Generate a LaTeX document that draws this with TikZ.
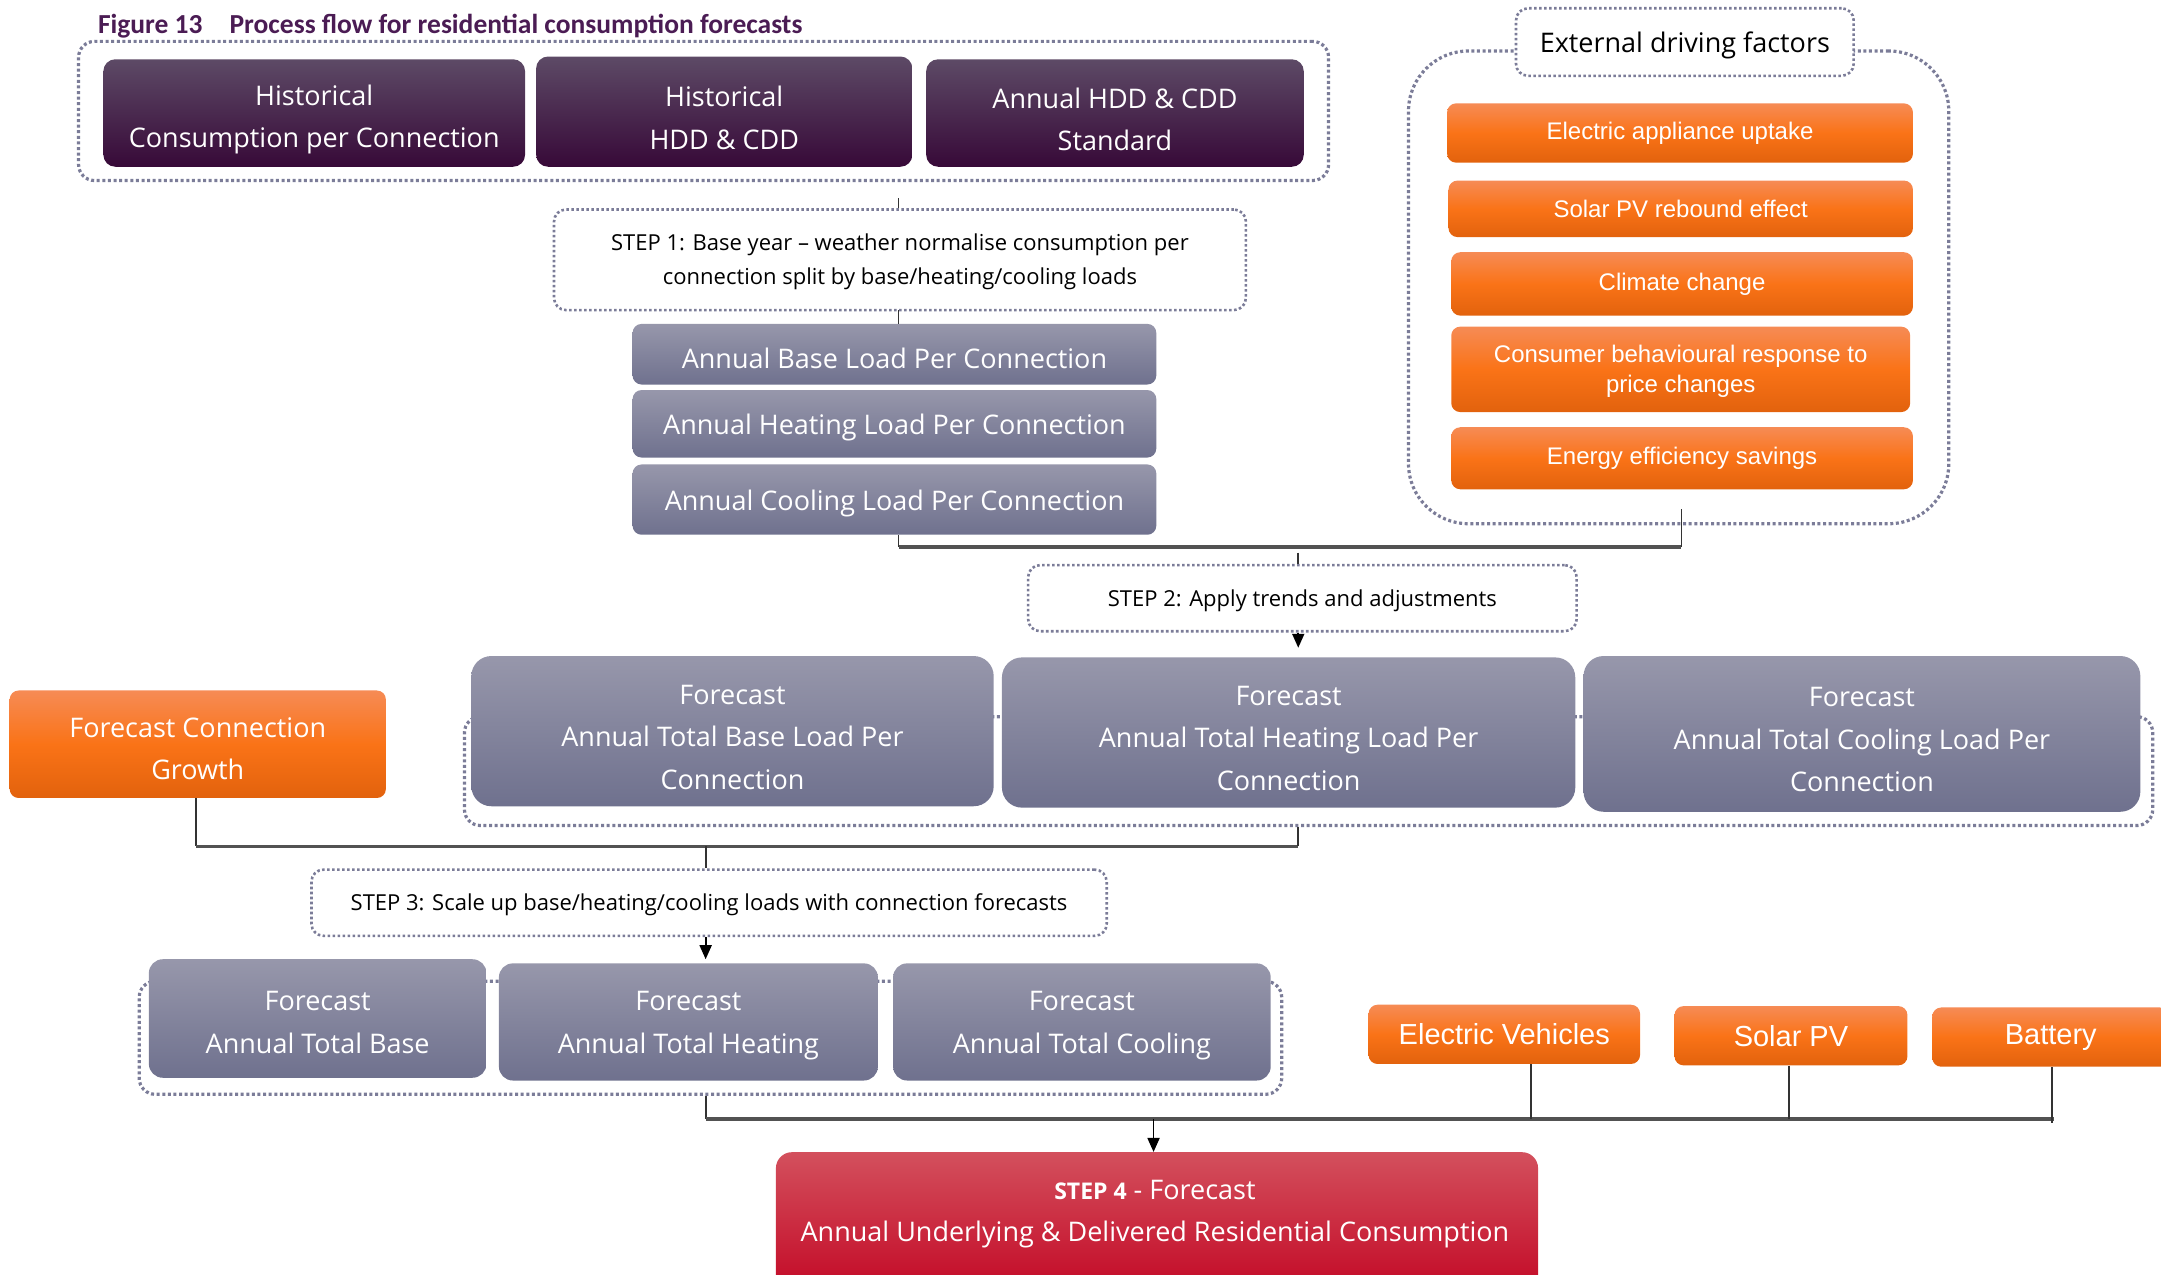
\documentclass[tikz,border=0pt]{standalone}
\usepackage{fontspec}
\setmainfont{Open Sans}
\newfontfamily\arialf{Liberation Sans}
\newfontfamily\titlef{Carlito}
\usetikzlibrary{arrows.meta}
\definecolor{purpT}{HTML}{5D4A66}
\definecolor{purpB}{HTML}{370938}
\definecolor{greyT}{HTML}{9797AB}
\definecolor{greyB}{HTML}{6F718E}
\definecolor{oranT}{HTML}{F68B55}
\definecolor{oranM}{HTML}{FA7317}
\definecolor{oranB}{HTML}{E2620D}
\definecolor{redT}{HTML}{D3505D}
\definecolor{redB}{HTML}{C1001F}
\definecolor{dotc}{HTML}{7B7C98}
\definecolor{titlec}{HTML}{4B1C54}
\definecolor{linec}{HTML}{333333}
\def\tsh{0pt}
% \rbx{style}{x1}{y1}{x2}{y2}{name}{text} -> node spanning the given corners
\newcommand\rbx[7]{\node[#1, minimum width={(#4-#2)*1.3782pt}, minimum height={(#5-#3)*1.3782pt}] (#6) at ({(#2+#4)/2},{(#3+#5)/2}) {\rule{0pt}{\tsh}#7};}
\begin{document}
\begin{tikzpicture}[x=1.3782pt,y=-1.3782pt,
  ts/.code={\def\tsh{#1}},
  box/.style={inner sep=0pt, align=center, text=white, font=\fontsize{27}{42.5}\selectfont},
  pbox/.style={box, ts=33pt, rounded corners=12pt, top color=purpT, bottom color=purpB},
  gbox/.style={box, ts=28pt, rounded corners=9pt, top color=greyT, bottom color=greyB},
  fbox/.style={box, ts=31pt, rounded corners=20pt, top color=greyT, bottom color=greyB},
  tbox/.style={fbox, ts=27pt, rounded corners=14pt},
  obox/.style={box, ts=0pt, rounded corners=9pt, top color=oranT, bottom color=oranB, middle color=oranM, font=\arialf\fontsize{24}{30}\selectfont},
  obig/.style={obox, font=\arialf\fontsize{29}{34}\selectfont},
  ogrow/.style={obox, ts=28pt, font=\fontsize{27}{42}\selectfont},
  rbox/.style={box, rounded corners=16pt, top color=redT, bottom color=redB},
  stepbox/.style={ts=21pt, draw=dotc, line width=2.6pt, dash pattern=on 2.6pt off 2.4pt, rounded corners=12pt, fill=white, inner sep=0pt, align=center, text=black, font=\fontsize{22}{34.5}\selectfont},
  grpbox/.style={draw=dotc, line width=3.2pt, dash pattern=on 3pt off 2.6pt, rounded corners=16pt, inner sep=0pt},
  conn/.style={draw=linec, line width=1.8pt},
  bus/.style={draw=linec!85!white, line width=3.4pt},
  arr/.style={conn, -{Triangle[width=12pt,length=14pt]}, draw=black, fill=black}
]
\useasboundingbox (0,0) rectangle (1568,925);

% title
\node[anchor=base west, text=titlec, inner sep=0pt, font=\titlef\bfseries\fontsize{27.5}{30}\selectfont] (title) at (71,24) {Figure 13\hspace{27pt}Process flow for residential consumption forecasts};

% group containers
\rbx{grpbox}{57}{30}{964}{131}{grp1}{}
\rbx{grpbox, rounded corners=60pt}{1022}{37}{1414}{380}{grpx}{}
\rbx{grpbox}{337}{520}{1562}{599}{grp2}{}
\rbx{grpbox}{101}{712}{930}{794}{grp3}{}

% historical boxes
\rbx{pbox}{75}{43}{381}{121}{h1}{Historical\\Consumption per Connection}
\rbx{pbox}{389}{41}{662}{121}{h2}{Historical\\HDD \& CDD}
\rbx{pbox}{672}{43}{946}{121}{h3}{Annual HDD \& CDD\\Standard}

% step 1
\rbx{stepbox}{402}{152}{904}{225}{step1}{STEP 1: Base year -- weather normalise consumption per\\connection split by base/heating/cooling loads}

% base year loads
\rbx{gbox}{459}{235}{839}{279}{b1}{Annual Base Load Per Connection}
\rbx{gbox}{459}{283}{839}{332}{b2}{Annual Heating Load Per Connection}
\rbx{gbox}{459}{337}{839}{388}{b3}{Annual Cooling Load Per Connection}

% external factors
\rbx{stepbox, ts=28pt, font=\fontsize{27}{32}\selectfont}{1100}{6}{1345}{55}{extl}{External driving factors}
\rbx{obox}{1050}{75}{1388}{118}{o1}{Electric appliance uptake}
\rbx{obox}{1051}{131}{1388}{172}{o2}{Solar PV rebound effect}
\rbx{obox}{1053}{183}{1388}{229}{o3}{Climate change}
\rbx{obox, ts=22pt}{1053}{237}{1386}{299}{o4}{Consumer behavioural response to\\price changes}
\rbx{obox}{1053}{310}{1388}{355}{o5}{Energy efficiency savings}

% step 2
\rbx{stepbox}{746}{410}{1144}{458}{step2}{STEP 2: Apply trends and adjustments}

% forecast per connection
\rbx{fbox}{342}{476}{721}{585}{f1}{Forecast\\Annual Total Base Load Per\\Connection}
\rbx{fbox}{727}{477}{1143}{586}{f2}{Forecast\\Annual Total Heating Load Per\\Connection}
\rbx{fbox}{1149}{476}{1553}{589}{f3}{Forecast\\Annual Total Cooling Load Per\\Connection}

\rbx{ogrow}{7}{501}{280}{579}{fcg}{Forecast Connection\\Growth}

% step 3
\rbx{stepbox}{226}{631}{803}{679}{step3}{STEP 3: Scale up base/heating/cooling loads with connection forecasts}

% forecast totals
\rbx{tbox}{108}{696}{353}{782}{t1}{Forecast\\Annual Total Base}
\rbx{tbox}{362}{699}{637}{784}{t2}{Forecast\\Annual Total Heating}
\rbx{tbox}{648}{699}{922}{784}{t3}{Forecast\\Annual Total Cooling}

\rbx{obig}{993}{729}{1190}{772}{ev}{Electric Vehicles}
\rbx{obig}{1215}{730}{1384}{773}{spv}{Solar PV}
\rbx{obig}{1402}{731}{1574}{774}{bat}{Battery}

% step 4
\rbx{rbox}{563}{836}{1116}{950}{s4}{}
\node[box, font=\fontsize{27}{42}\selectfont] (s4t) at (838,881) {{\bfseries\fontsize{23}{42}\selectfont STEP 4} - Forecast\\Annual Underlying \& Delivered Residential Consumption};

% connectors
\coordinate (c1) at (652,144);
\draw[conn] (c1) -- (c1 |- step1.north);
\coordinate (c1b) at (652,225);
\draw[conn] (c1b) -- (c1b |- b1.north);

\coordinate (j1) at (652,397);
\coordinate (j1r) at (1220,397);
\coordinate (j1e) at (1220,369);
\draw[conn] (j1 |- b3.south) -- (j1);
\draw[bus] (j1) -- (j1r);
\draw[conn] (j1r) -- (j1e);

\coordinate (c2) at (942,401);
\draw[conn] (c2) -- (c2 |- step2.north);
\coordinate (a2) at (942,470);
\draw[arr] (a2 |- step2.south) -- (a2);

\coordinate (j2) at (142,614);
\coordinate (j2r) at (942,614);
\draw[conn] (j2 |- fcg.south) -- (j2);
\draw[bus] (j2) -- (j2r);
\draw[conn] (j2r) -- (j2r |- grp2.south);
\coordinate (j3) at (512,614);
\draw[conn] (j3) -- (j3 |- step3.north);
\coordinate (a3) at (512,696);
\draw[arr] (a3 |- step3.south) -- (a3);

\coordinate (j4) at (512,812);
\coordinate (j4r) at (1490,812);
\draw[conn] (j4 |- grp3.south) -- (j4);
\draw[bus] (j4) -- (j4r);
\coordinate (jev) at (1111,812);
\coordinate (jspv) at (1298,812);
\coordinate (jbat) at (1489,815);
\draw[conn] (jev |- ev.south) -- (jev);
\draw[conn] (jspv |- spv.south) -- (jspv);
\draw[conn] (jbat |- bat.south) -- (jbat);
\coordinate (a4) at (837,812);
\draw[arr] (a4) -- (a4 |- s4.north);
\end{tikzpicture}
\end{document}
